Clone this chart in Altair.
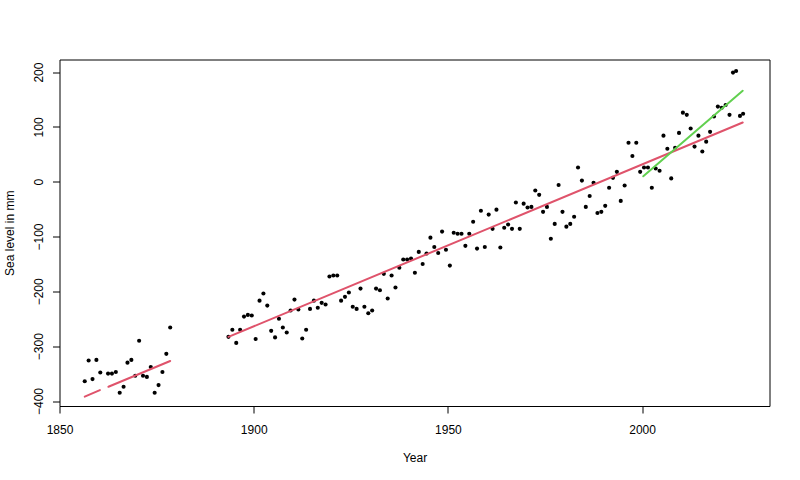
import altair as alt
import pandas as pd

# ---- observed annual mean sea level (mm), plotted at mid-year ----
years_a = [1856, 1857, 1858, 1859, 1860, 1862, 1863, 1864, 1865, 1866, 1867,
           1868, 1869, 1870, 1871, 1872, 1873, 1874, 1875, 1876, 1877, 1878]
level_a = [-364, -326, -360, -325, -348, -350, -350, -347, -385, -374, -330,
           -325, -354, -290, -354, -356, -338, -385, -371, -347, -314, -266]

years_b = list(range(1893, 2027))
level_b = [
    -283, -270, -294, -270, -246, -243, -244, -287, -217, -204,   # 1893-1902
    -226, -272, -284, -250, -266, -275, -235, -215, -233, -286,   # 1903-1912
    -270, -232, -217, -230, -221, -224, -173, -171, -171, -217,   # 1913-1922
    -210, -202, -228, -232, -195, -228, -240, -235, -195, -198,   # 1923-1932
    -168, -213, -171, -193, -157, -142, -142, -140, -166, -128,   # 1933-1942
    -150, -131, -102, -119, -130, -91, -124, -153, -93, -95,      # 1943-1952
    -95, -117, -95, -73, -122, -53, -119, -60, -86, -51,          # 1953-1962
    -120, -84, -78, -86, -38, -86, -40, -47, -46, -16,            # 1963-1972
    -24, -55, -46, -104, -77, -6, -55, -82, -77, -64,             # 1973-1982
    26, 2, -46, -26, -2, -57, -55, -44, -11, 7,                   # 1983-1992
    18, -35, -7, 71, 47, 71, 18, 26, 26, -11,                     # 1993-2002
    24, 20, 84, 60, 6, 62, 89, 126, 122, 97,                      # 2003-2012
    64, 84, 55, 73, 91, 119, 137, 135, 140, 122,                  # 2013-2022
    199, 202, 120, 124,                                           # 2023-2026
]
# plotted x positions (decimal years) of the last few points, as read
tail_x = [2023.4, 2024.2, 2025.2, 2026.0]

# ---- fitted trend lines (segment ends, decimal years) ----
red_x = [1856.5, 1860.4, 1862.6, 1878.5, 1893.5, 2025.9]
red_values = [-392, -380, -374, -327, -283, 108]
red_segment = ["a", "a", "b", "b", "c", "c"]

green_x = [2000.3, 2025.9]
green_values = [10, 166]

xs = [y + 0.5 for y in years_a + years_b]
xs[-len(tail_x):] = tail_x
pts = pd.DataFrame({"x": xs, "value": level_a + level_b})
red = pd.DataFrame({"x": red_x, "value": red_values, "seg": red_segment})
green = pd.DataFrame({"x": green_x, "value": green_values})

FONT = "Liberation Sans"

xscale = alt.Scale(domain=[1850, 2032.8], nice=False, zero=False)
yscale = alt.Scale(domain=[-409.1, 222.9], nice=False, zero=False)

xaxis = alt.Axis(
    values=[1850, 1900, 1950, 2000], format="d", title="Year",
    domain=False, grid=False, tickSize=7, tickColor="black", tickWidth=1,
    labelFont=FONT, labelFontSize=12, labelColor="black", labelPadding=11,
    labelBaseline="top", labelFlush=False, labelOverlap=False,
    titleFont=FONT, titleFontSize=12, titleFontWeight="normal", titleColor="black",
    titleX=355, titleY=55, titleAlign="center", titleBaseline="alphabetic",
)
yaxis = alt.Axis(
    values=[-400, -300, -200, -100, 0, 100, 200], format="d", title="Sea level in mm",
    domain=False, grid=False, tickSize=7, tickColor="black", tickWidth=1,
    labelFont=FONT, labelFontSize=12, labelColor="black", labelPadding=7.5,
    labelAngle=270, labelAlign="center", labelBaseline="bottom",
    labelFlush=False, labelOverlap=False,
    titleFont=FONT, titleFontSize=12, titleFontWeight="normal", titleColor="black",
    titleAngle=270, titleX=-46.5, titleY=173.25, titleAlign="center",
    titleBaseline="alphabetic",
)

points = alt.Chart(pts).mark_circle(size=17, color="black", opacity=1).encode(
    x=alt.X("x:Q", scale=xscale, axis=xaxis),
    y=alt.Y("value:Q", scale=yscale, axis=yaxis),
)

red_line = alt.Chart(red).mark_line(color="#DF536B", strokeWidth=2,
                                    strokeCap="round").encode(
    x=alt.X("x:Q", scale=xscale),
    y=alt.Y("value:Q", scale=yscale),
    detail="seg:N",
)

green_line = alt.Chart(green).mark_line(color="#61D04F", strokeWidth=2,
                                        strokeCap="round").encode(
    x=alt.X("x:Q", scale=xscale),
    y=alt.Y("value:Q", scale=yscale),
)

chart = alt.layer(points, red_line, green_line).properties(
    width=710, height=346.5,
    autosize=alt.AutoSizeParams(type="none"),
    padding={"left": 59.5, "top": 59.5, "right": 30.5, "bottom": 74},
    background="white",
).configure_view(stroke="black", strokeWidth=1)

chart.save("out.html", embed_options={"renderer": "svg", "actions": False})
